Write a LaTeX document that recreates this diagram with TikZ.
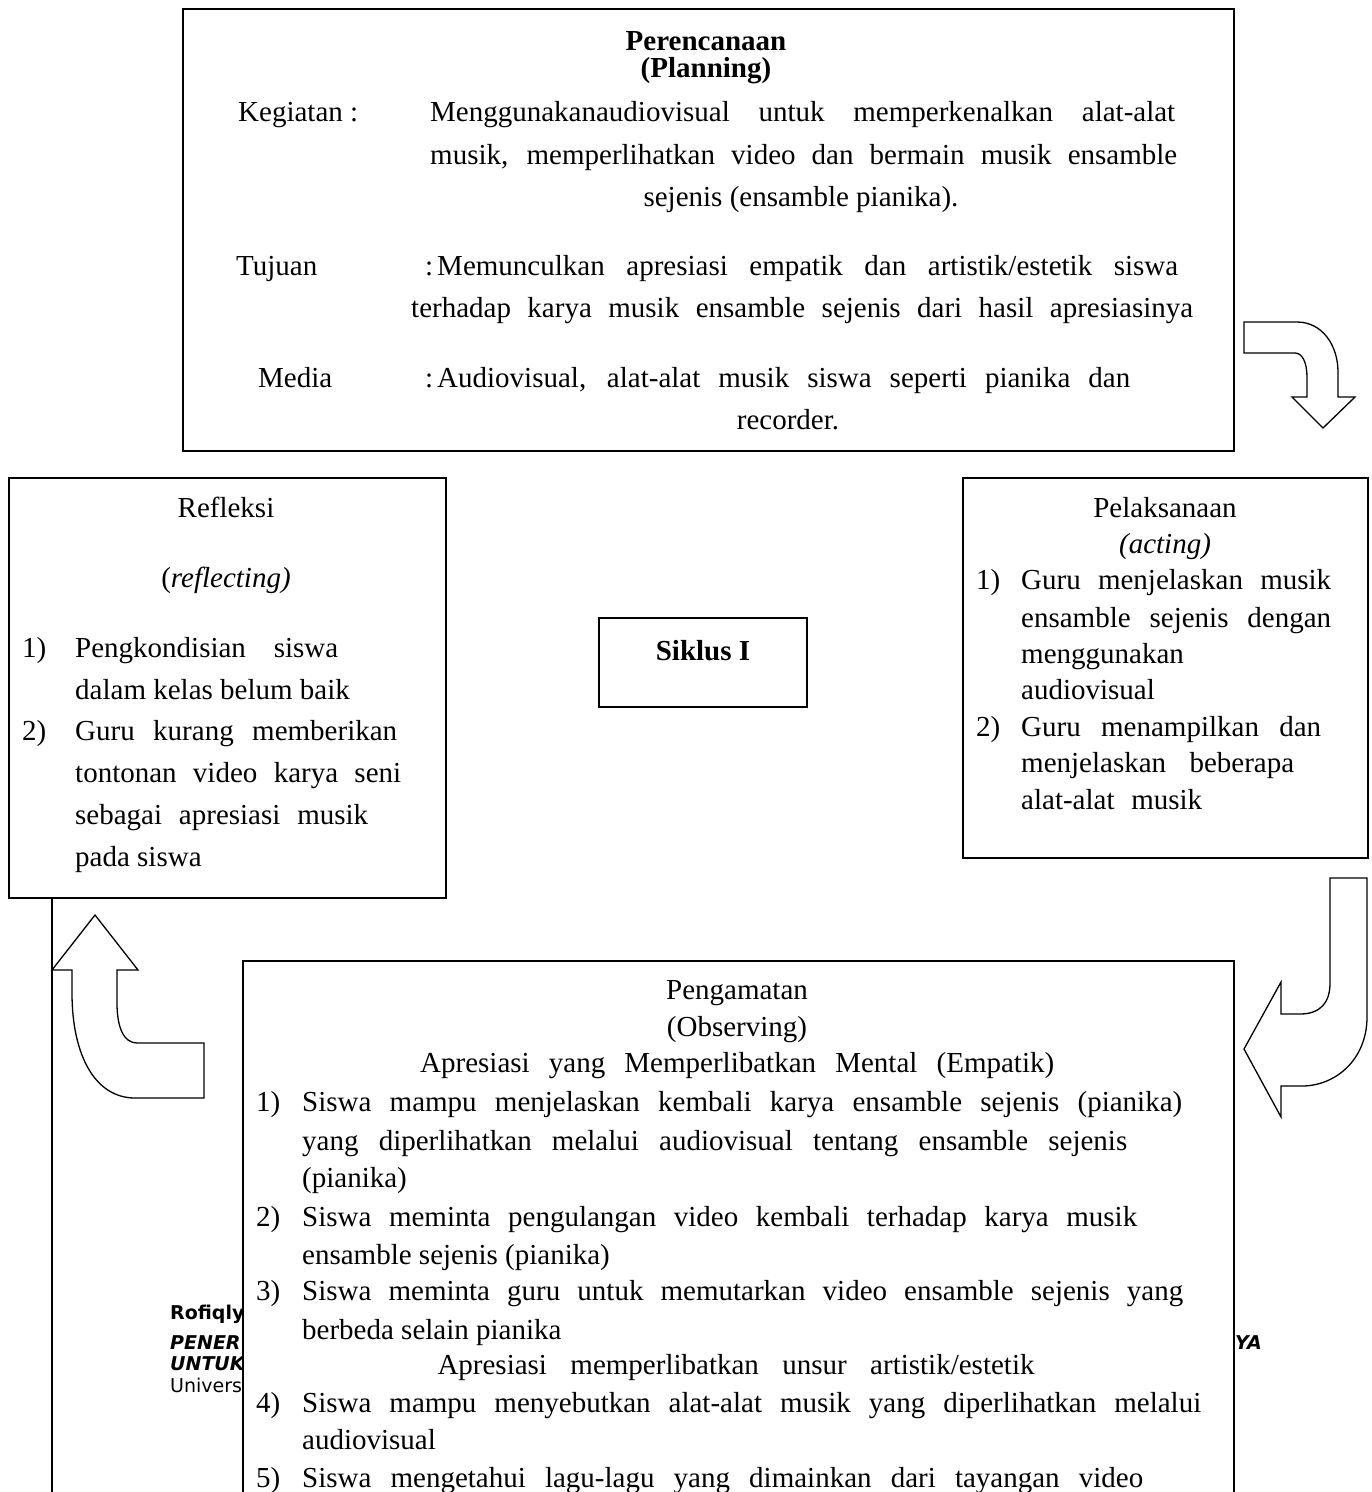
\documentclass[tikz,border=0pt]{standalone}
\usepackage{fontspec}
\setmainfont{Liberation Serif}
\newfontfamily\hdrfont{DejaVu Sans}
\newcommand\bodysize{\fontsize{29}{34}\selectfont}
\newcommand\jb[2]{\makebox[#1pt][s]{#2}}
\tikzset{
  frame/.style={draw, line width=1.6pt, fill=white, inner sep=0pt, anchor=north west},
  jl/.style={anchor=base west, inner sep=0pt, font=\bodysize},
  cl/.style={anchor=base, inner sep=0pt, font=\bodysize},
  bcl/.style={anchor=base, inner sep=0pt, font=\bodysize\bfseries},
  bgtxt/.style={anchor=base west, inner sep=0pt, font=\hdrfont\fontsize{19}{22}\selectfont},
  barrow/.style={draw, line width=1.3pt, fill=white, line join=miter},
  vline/.style={draw, line width=1.6pt}
}
\begin{document}
\begin{tikzpicture}[x=1pt,y=-1pt]
\useasboundingbox (0,0) rectangle (1372,1492);
\clip (0,0) rectangle (1372,1492);

% background page text (partly hidden)
\node[bgtxt, font=\hdrfont\fontsize{19}{22}\selectfont\bfseries] (bg1) at (170,1319) {Rofiqly};
\node[bgtxt, font=\hdrfont\fontsize{19}{22}\selectfont\bfseries\itshape] (bg2) at (170,1349) {PENER};
\node[bgtxt, font=\hdrfont\fontsize{19}{22}\selectfont\bfseries\itshape] (bg3) at (170,1370) {UNTUK};
\node[bgtxt] (bg4) at (170,1392) {Univers};
\node[bgtxt, anchor=base east, font=\hdrfont\fontsize{19}{22}\selectfont\bfseries\itshape] (bg5) at (1262,1349) {YA};

% boxes
\node[frame, minimum width=1051pt, minimum height=442pt] (plan) at (182,8) {};
\node[frame, minimum width=437pt, minimum height=420pt] (refl) at (8,477) {};
\node[frame, minimum width=405pt, minimum height=380pt] (act) at (962,477) {};
\node[frame, minimum width=208pt, minimum height=89pt] (siklus) at (598,617) {};
\node[frame, minimum width=991pt, minimum height=600pt] (obs) at (242,960) {};

% vertical line from Refleksi down
\coordinate (vbot) at (52,1530);
\draw[vline] (refl.south -| vbot) -- (vbot);

% block arrows
\draw[barrow] (1244,322) -- (1297,322) .. controls (1322,322) and (1338,345) .. (1338,372)
  -- (1338,397) -- (1355,397) -- (1323,428) -- (1292,397) -- (1307,397) -- (1307,377)
  .. controls (1307,362) and (1302,353) .. (1295,353) -- (1244,353) -- cycle;
\draw[barrow] (1330,878) -- (1367,878) -- (1367,1017) .. controls (1367,1060) and (1335,1086) .. (1302,1086)
  -- (1281,1086) -- (1281,1117) -- (1244,1049) -- (1281,982) -- (1281,1014) -- (1300,1014)
  .. controls (1320,1014) and (1330,1003) .. (1330,983) -- cycle;
\draw[barrow] (95,915) -- (138,970) -- (117,970) -- (117,1003) .. controls (117,1028) and (124,1043) .. (137,1043)
  -- (204,1043) -- (204,1098) -- (135,1098) .. controls (95,1098) and (72,1055) .. (72,993)
  -- (72,970) -- (52,970) -- cycle;

% Perencanaan
\node[bcl] (t1) at (706,50) {Perencanaan};
\node[bcl] (t2) at (706,77) {(Planning)};
\node[jl] (t3) at (238,121) {Kegiatan :};
\node[jl] (t4) at (430,121) {\jb{745}{Menggunakanaudiovisual untuk memperkenalkan alat-alat}};
\node[jl] (t5) at (430,164) {\jb{747}{musik, memperlihatkan video dan bermain musik ensamble}};
\node[cl] (t6) at (801,206) {sejenis (ensamble pianika).};
\node[jl] (t7) at (236,275) {Tujuan};
\node[jl] (t8) at (425,275) {\jb{753}{:\hspace{4pt}Memunculkan apresiasi empatik dan artistik/estetik siswa}};
\node[jl] (t9) at (411,317) {\jb{782}{terhadap karya musik ensamble sejenis dari hasil apresiasinya}};
\node[jl] (t10) at (258,387) {Media};
\node[jl] (t11) at (425,387) {\jb{705}{:\hspace{4pt}Audiovisual, alat-alat musik siswa seperti pianika dan}};
\node[cl] (t12) at (788,429) {recorder.};

% Refleksi
\node[cl] (r1) at (226,517) {Refleksi};
\node[cl] (r2) at (226,587) {(\textit{reflecting)}};
\node[jl] (r3) at (22,657) {1)};
\node[jl] (r4) at (75,657) {\jb{263}{Pengkondisian siswa}};
\node[jl] (r5) at (75,699) {dalam kelas belum baik};
\node[jl] (r6) at (22,740) {2)};
\node[jl] (r7) at (75,740) {\jb{322}{Guru kurang memberikan}};
\node[jl] (r8) at (75,782) {\jb{326}{tontonan video karya seni}};
\node[jl] (r9) at (75,824) {\jb{293}{sebagai apresiasi musik}};
\node[jl] (r10) at (75,866) {pada siswa};

% Siklus
\node[bcl] (s1) at (703,660) {Siklus I};

% Pelaksanaan
\node[cl] (p1) at (1165,517) {Pelaksanaan};
\node[cl] (p2) at (1165,553) {\textit{(acting)}};
\node[jl] (p3) at (976,589) {1)};
\node[jl] (p4) at (1021,589) {\jb{310}{Guru menjelaskan musik}};
\node[jl] (p5) at (1021,627) {\jb{310}{ensamble sejenis dengan}};
\node[jl] (p6) at (1021,663) {menggunakan};
\node[jl] (p7) at (1021,699) {audiovisual};
\node[jl] (p8) at (976,736) {2)};
\node[jl] (p9) at (1021,736) {\jb{300}{Guru menampilkan dan}};
\node[jl] (p10) at (1021,772) {\jb{273}{menjelaskan beberapa}};
\node[jl] (p11) at (1021,809) {\jb{181}{alat-alat musik}};

% Pengamatan
\node[cl] (o1) at (737,999) {Pengamatan};
\node[cl] (o2) at (737,1036) {(Observing)};
\node[jl] (o3) at (420,1072) {\jb{634}{Apresiasi yang Memperlibatkan Mental (Empatik)}};
\node[jl] (o4) at (256,1111) {1)};
\node[jl] (o5) at (302,1111) {\jb{880}{Siswa mampu menjelaskan kembali karya ensamble sejenis (pianika)}};
\node[jl] (o6) at (302,1150) {\jb{825}{yang diperlihatkan melalui audiovisual tentang ensamble sejenis}};
\node[jl] (o7) at (302,1187) {(pianika)};
\node[jl] (o8) at (256,1226) {2)};
\node[jl] (o9) at (302,1226) {\jb{835}{Siswa meminta pengulangan video kembali terhadap karya musik}};
\node[jl] (o10) at (302,1264) {ensamble sejenis (pianika)};
\node[jl] (o11) at (256,1300) {3)};
\node[jl] (o12) at (302,1300) {\jb{881}{Siswa meminta guru untuk memutarkan video ensamble sejenis yang}};
\node[jl] (o13) at (302,1339) {berbeda selain pianika};
\node[cl] (o14) at (736,1374) {\jb{597}{Apresiasi memperlibatkan unsur artistik/estetik}};
\node[jl] (o15) at (256,1412) {4)};
\node[jl] (o16) at (302,1412) {\jb{899}{Siswa mampu menyebutkan alat-alat musik yang diperlihatkan melalui}};
\node[jl] (o17) at (302,1449) {audiovisual};
\node[jl] (o18) at (256,1487) {5)};
\node[jl] (o19) at (302,1487) {\jb{841}{Siswa mengetahui lagu-lagu yang dimainkan dari tayangan video}};
\end{tikzpicture}
\end{document}
